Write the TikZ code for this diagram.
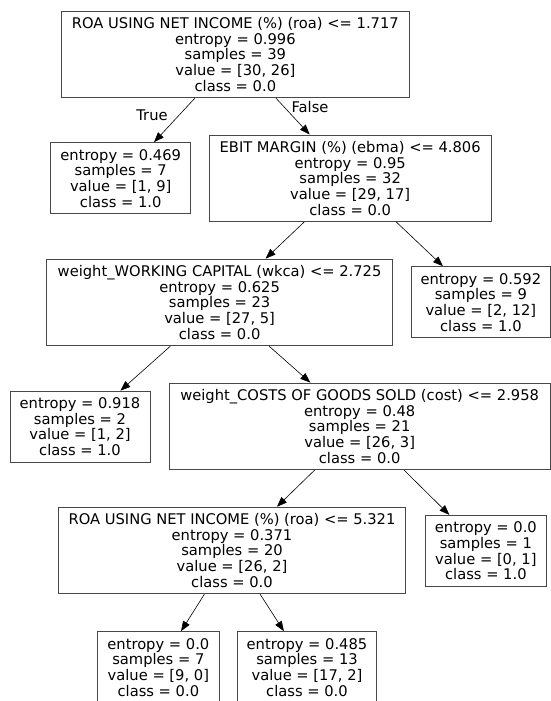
\documentclass[tikz,border=0pt]{standalone}
\usepackage{fontspec}
\setmainfont{DejaVu Sans}
\usetikzlibrary{arrows.meta}
\begin{document}
\begin{tikzpicture}[x=1pt,y=-1pt,
  treefont/.style={font=\fontsize{14.7}{15.7}\selectfont},
  treenode/.style={treefont, draw=black!72, line width=1pt, rectangle,
    inner sep=0pt, align=center},
  split/.style={treenode, minimum height=86.5pt},
  leaf/.style={treenode, minimum height=71pt},
  edge/.style={draw=black, line width=0.6pt, -{Triangle[length=10pt,width=7.5pt]}},
  edgelabel/.style={treefont, inner sep=0pt}]
\useasboundingbox (0,0) rectangle (551,701);
\fill[white] (0,0) rectangle (551,701);
\clip (0,0) rectangle (551,701);

% split nodes
\node[split, minimum width=347.3pt] (root) at (235.35,54.35)
  {ROA USING NET INCOME (\%) (roa) <= 1.717\\entropy = 0.996\\samples = 39\\value = [30, 26]\\class = 0.0};
\node[split, minimum width=281.7pt] (ebit) at (350.15,178.25)
  {EBIT MARGIN (\%) (ebma) <= 4.806\\entropy = 0.95\\samples = 32\\value = [29, 17]\\class = 0.0};
\node[split, minimum width=345.8pt] (wkca) at (219.6,302.35)
  {weight\_WORKING CAPITAL (wkca) <= 2.725\\entropy = 0.625\\samples = 23\\value = [27, 5]\\class = 0.0};
\node[split, minimum width=380.7pt] (cost) at (359.65,426.3)
  {weight\_COSTS OF GOODS SOLD (cost) <= 2.958\\entropy = 0.48\\samples = 21\\value = [26, 3]\\class = 0.0};
\node[split, minimum width=347.4pt] (roab) at (232,550.5)
  {ROA USING NET INCOME (\%) (roa) <= 5.321\\entropy = 0.371\\samples = 20\\value = [26, 2]\\class = 0.0};

% leaves
\node[leaf, minimum width=140pt] (leafa) at (120.7,178.2)
  {entropy = 0.469\\samples = 7\\value = [1, 9]\\class = 1.0};
\node[leaf, minimum width=138.3pt] (leafb) at (480.85,302.2)
  {entropy = 0.592\\samples = 9\\value = [2, 12]\\class = 1.0};
\node[leaf, minimum width=140pt] (leafc) at (80,426.65)
  {entropy = 0.918\\samples = 2\\value = [1, 2]\\class = 1.0};
\node[leaf, minimum width=121.7pt] (leafd) at (485.85,550.85)
  {entropy = 0.0\\samples = 1\\value = [0, 1]\\class = 1.0};
\node[leaf, minimum width=121.3pt] (leafe) at (158.35,667.2)
  {entropy = 0.0\\samples = 7\\value = [9, 0]\\class = 0.0};
\node[leaf, minimum width=139.4pt] (leaff) at (307,667.2)
  {entropy = 0.485\\samples = 13\\value = [17, 2]\\class = 0.0};

% edges
\draw[edge] (root) -- (leafa);
\draw[edge] (root) -- (ebit);
\draw[edge] (ebit) -- (wkca);
\draw[edge] (ebit) -- (leafb);
\draw[edge] (wkca) -- (leafc);
\draw[edge] (wkca) -- (cost);
\draw[edge] (cost) -- (roab);
\draw[edge] (cost) -- (leafd);
\draw[edge] (roab) -- (leafe);
\draw[edge] (roab) -- (leaff);

% branch labels
\node[edgelabel] (truelbl) at (152,115.7) {True};
\node[edgelabel] (falselbl) at (310,107.3) {False};
\end{tikzpicture}
\end{document}
